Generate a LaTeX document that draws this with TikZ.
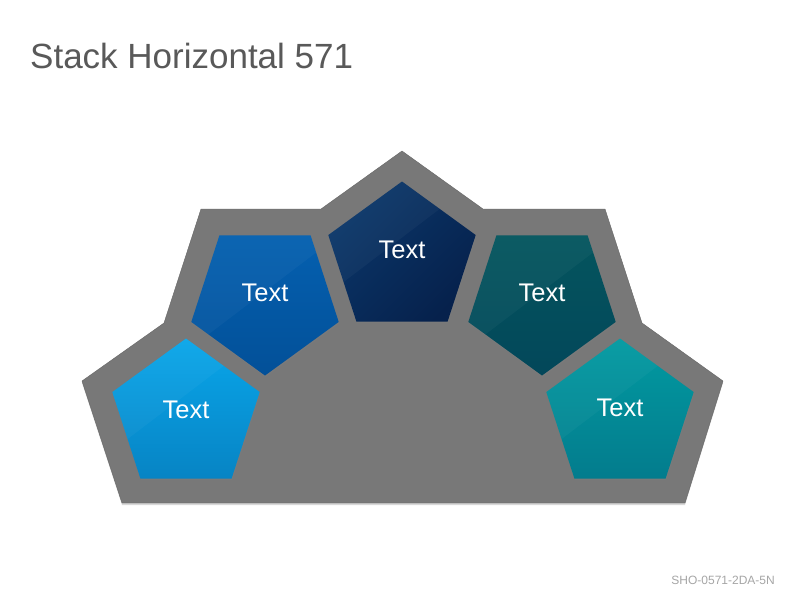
\documentclass[tikz,border=0pt]{standalone}
\usepackage{fontspec}
\setmainfont{Liberation Sans}
\usetikzlibrary{positioning, calc, shapes.geometric, shadows}

\definecolor{titlegray}{HTML}{595959}
\definecolor{footgray}{HTML}{A6A6A6}
\definecolor{plate}{HTML}{787878}
\definecolor{plateedge}{HTML}{666666}
\definecolor{skyA}{HTML}{09A6EA}
\definecolor{skyB}{HTML}{0784C4}
\definecolor{blueA}{HTML}{0460B0}
\definecolor{blueB}{HTML}{035098}
\definecolor{navyA}{HTML}{0B376A}
\definecolor{navyB}{HTML}{06214C}
\definecolor{tealA}{HTML}{04555E}
\definecolor{tealB}{HTML}{03475A}
\definecolor{aquaA}{HTML}{029AA1}
\definecolor{aquaB}{HTML}{037C8D}

\begin{document}
\begin{tikzpicture}[x=1pt, y=-1pt,
    penta/.style={regular polygon, regular polygon sides=5, minimum size=155pt, inner sep=0pt, outer sep=0pt,
      drop shadow={opacity=0.3, shadow xshift=0.5pt, shadow yshift=-1.5pt},
      path picture={\fill[white, opacity=0.035] (path picture bounding box.north west) -- (path picture bounding box.north east) -- ($(path picture bounding box.south west)!0.2!(path picture bounding box.north west)$) -- cycle;}},
    flip/.style={shape border rotate=180},
    lbl/.style={text=white, font=\fontsize{25.5}{30}\selectfont, inner sep=0pt}]

	\useasboundingbox (0,0) rectangle (800,600);
	\fill[white] (0,0) rectangle (800,600);

	\node (title) [anchor=base west, inner sep=0pt, text=titlegray, font=\fontsize{35}{42}\selectfont] at (30,68) {Stack Horizontal 571};
	\node (code) [anchor=base east, inner sep=0pt, text=footgray, font=\fontsize{12}{14}\selectfont] at (775,584) {SHO-0571-2DA-5N};

	% gray base plate
	\draw[draw=plateedge, fill=plate, drop shadow={opacity=0.3, shadow xshift=0pt, shadow yshift=-2pt}]
		(82,381) -- (164,323) -- (201,209) -- (321,209) -- (402,151) -- (483,209) -- (605,209) -- (642,323) -- (723,381) -- (685,503) -- (122,503) -- cycle;

	\node (p1) [penta, top color=skyA, bottom color=skyB] at (186,416) {};
	\node (p2) [penta, flip, top color=blueA, bottom color=blueB] at (265,298) {};
	\node (p3) [penta, top color=navyA, bottom color=navyB, shading angle=45] at (402,259) {};
	\node (p4) [penta, flip, top color=tealA, bottom color=tealB] at (542,298) {};
	\node (p5) [penta, top color=aquaA, bottom color=aquaB] at (620,416) {};

	\node (t1) [lbl] at ([yshift=6pt]p1.center) {Text};
	\node (t2) [lbl] at ([yshift=5pt]p2.center) {Text};
	\node (t3) [lbl] at ([yshift=9pt]p3.center) {Text};
	\node (t4) [lbl] at ([yshift=5pt]p4.center) {Text};
	\node (t5) [lbl] at ([yshift=8pt]p5.center) {Text};
\end{tikzpicture}
\end{document}
